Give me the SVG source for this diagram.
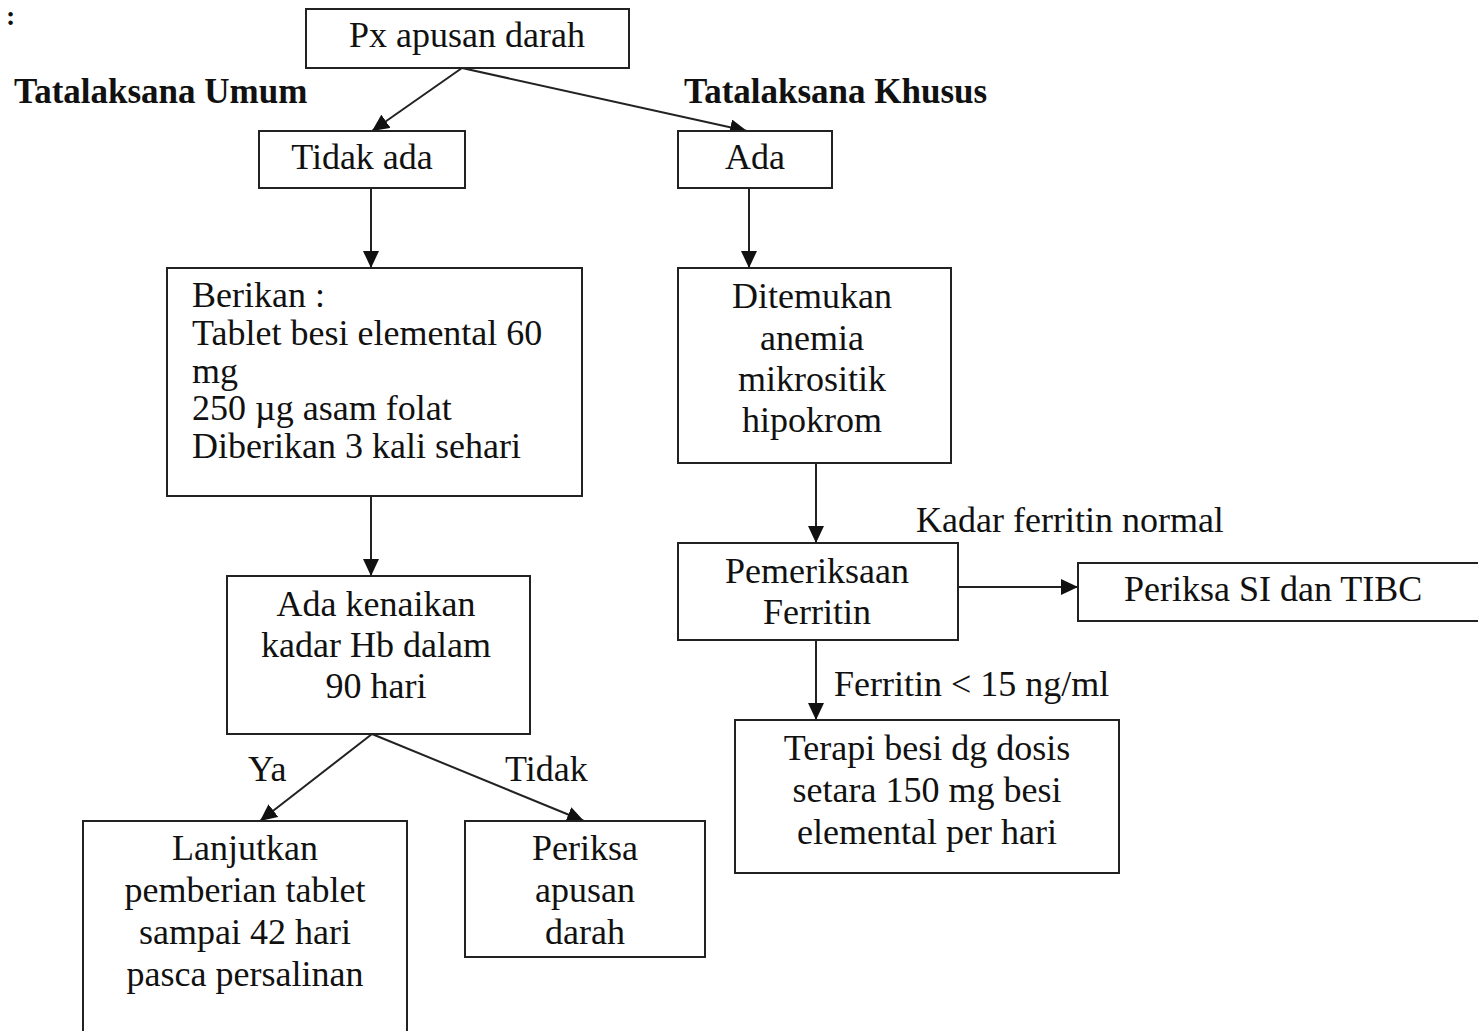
<svg xmlns="http://www.w3.org/2000/svg" width="1478" height="1031" viewBox="0 0 1478 1031">
<defs>
<marker id="ah" markerUnits="userSpaceOnUse" markerWidth="18" markerHeight="16" refX="17" refY="8" orient="auto">
<path d="M0,0 L17,8 L0,16 Z" fill="#111"/>
</marker>
<style>
.box{fill:#fff;stroke:#222;stroke-width:2}
.t{font-family:"Liberation Serif","Times New Roman",serif;font-size:36px;fill:#111}
.c{text-anchor:middle}
.b{font-weight:bold;font-size:35px}
.ln{stroke:#222;stroke-width:2;fill:none;marker-end:url(#ah)}
</style>
</defs>
<rect width="1478" height="1031" fill="#fff"/>
<text class="t b" x="6" y="25" style="font-size:28px">:</text>
<text class="t b" x="14" y="103">Tatalaksana Umum</text>
<text class="t b" x="684" y="103">Tatalaksana Khusus</text>

<g id="connectors">
<line class="ln" x1="462" y1="68" x2="372" y2="131"/>
<line class="ln" x1="462" y1="68" x2="747" y2="131"/>
<line class="ln" x1="371" y1="188" x2="371" y2="268"/>
<line class="ln" x1="749" y1="188" x2="749" y2="268"/>
<line class="ln" x1="371" y1="496" x2="371" y2="576"/>
<line class="ln" x1="816" y1="463" x2="816" y2="543"/>
<line class="ln" x1="958" y1="587" x2="1078" y2="587"/>
<line class="ln" x1="816" y1="640" x2="816" y2="720"/>
<line class="ln" x1="372" y1="734" x2="260" y2="821"/>
<line class="ln" x1="372" y1="734" x2="584" y2="821"/>
<text class="t" x="248" y="781">Ya</text>
<text class="t" x="505" y="781">Tidak</text>
<text class="t" x="916" y="532">Kadar ferritin normal</text>
<text class="t" x="834" y="696">Ferritin &lt; 15 ng/ml</text>
</g>

<g id="n-px">
<rect class="box" x="306" y="9" width="323" height="59"/>
<text class="t c" x="467" y="47">Px apusan darah</text>
</g>
<g id="n-tidakada">
<rect class="box" x="259" y="131" width="206" height="57"/>
<text class="t c" x="362" y="169">Tidak ada</text>
</g>
<g id="n-ada">
<rect class="box" x="678" y="131" width="154" height="57"/>
<text class="t c" x="755" y="169">Ada</text>
</g>
<g id="n-berikan">
<rect class="box" x="167" y="268" width="415" height="228"/>
<text class="t" x="192" y="307">Berikan :</text>
<text class="t" x="192" y="345">Tablet besi elemental 60</text>
<text class="t" x="192" y="383">mg</text>
<text class="t" x="192" y="420">250 µg asam folat</text>
<text class="t" x="192" y="458">Diberikan 3 kali sehari</text>
</g>
<g id="n-ditemukan">
<rect class="box" x="678" y="268" width="273" height="195"/>
<text class="t c" x="812" y="308">Ditemukan</text>
<text class="t c" x="812" y="350">anemia</text>
<text class="t c" x="812" y="391">mikrositik</text>
<text class="t c" x="812" y="432">hipokrom</text>
</g>
<g id="n-kenaikan">
<rect class="box" x="227" y="576" width="303" height="158"/>
<text class="t c" x="376" y="616">Ada kenaikan</text>
<text class="t c" x="376" y="657">kadar Hb dalam</text>
<text class="t c" x="376" y="698">90 hari</text>
</g>
<g id="n-pemeriksaan">
<rect class="box" x="678" y="543" width="280" height="97"/>
<text class="t c" x="817" y="583">Pemeriksaan</text>
<text class="t c" x="817" y="624">Ferritin</text>
</g>
<g id="n-si">
<rect class="box" x="1078" y="563" width="410" height="58"/>
<text class="t" x="1124" y="601">Periksa SI dan TIBC</text>
</g>
<g id="n-terapi">
<rect class="box" x="735" y="720" width="384" height="153"/>
<text class="t c" x="927" y="760">Terapi besi dg dosis</text>
<text class="t c" x="927" y="802">setara 150 mg  besi</text>
<text class="t c" x="927" y="844">elemental per hari</text>
</g>
<g id="n-lanjutkan">
<rect class="box" x="83" y="821" width="324" height="230"/>
<text class="t c" x="245" y="860">Lanjutkan</text>
<text class="t c" x="245" y="902">pemberian tablet</text>
<text class="t c" x="245" y="944">sampai 42 hari</text>
<text class="t c" x="245" y="986">pasca persalinan</text>
</g>
<g id="n-periksa">
<rect class="box" x="465" y="821" width="240" height="136"/>
<text class="t c" x="585" y="860">Periksa</text>
<text class="t c" x="585" y="902">apusan</text>
<text class="t c" x="585" y="944">darah</text>
</g>
</svg>
